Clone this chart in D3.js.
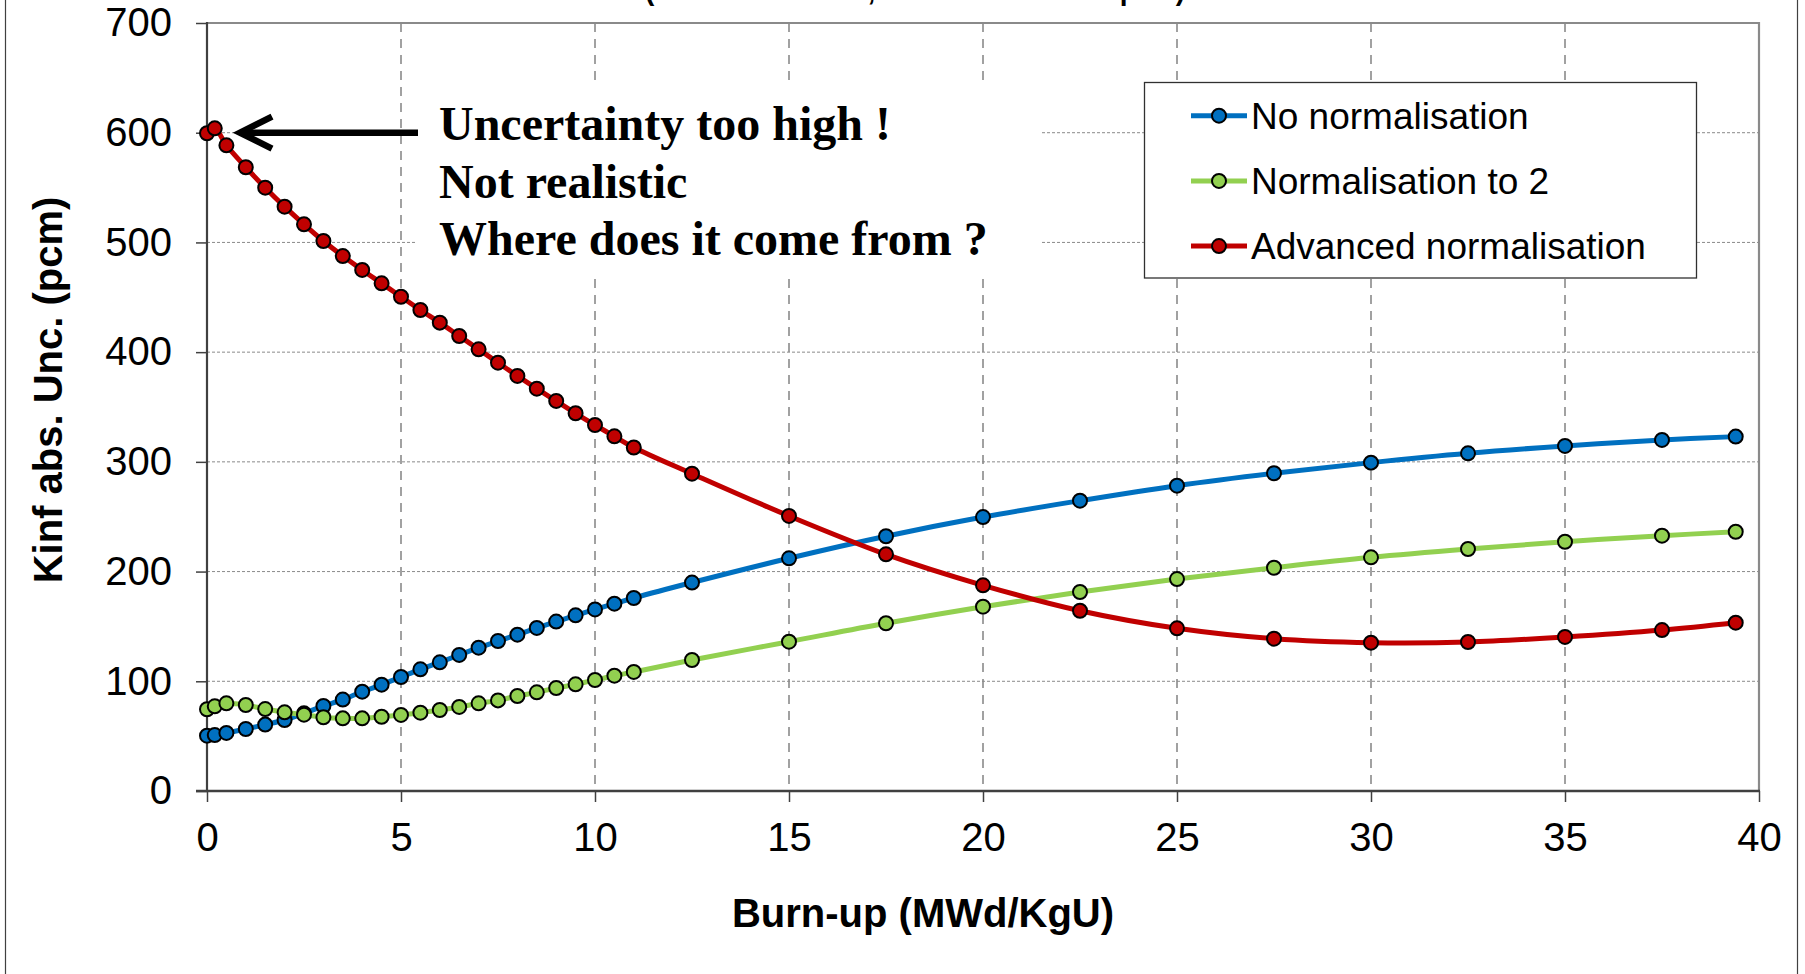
<!DOCTYPE html>
<html>
<head>
<meta charset="utf-8">
<script src="https://cdn.jsdelivr.net/npm/d3@7"></script>
<style>
  html, body { margin: 0; padding: 0; background: #fff; }
  svg { display: block; }
</style>
</head>
<body>
<svg id="chart" width="1805" height="974"></svg>
<script>
// ---- data ----
const burnup = [0, 0.2, 0.5, 1, 1.5, 2, 2.5, 3, 3.5, 4, 4.5, 5, 5.5, 6, 6.5, 7, 7.5, 8, 8.5, 9, 9.5, 10, 10.5, 11,
                12.5, 15, 17.5, 20, 22.5, 25, 27.5, 30, 32.5, 35, 37.5, 39.4];
const noNorm = [50.4, 51, 52.9, 56.5, 60.5, 64.7, 70.8, 77.5, 83.3, 90.5, 96.9, 103.9, 110.9, 117.3, 124, 130.6, 136.7, 142.5, 148.6, 154.4, 160.1, 165.5, 170.7, 175.9,
                190, 212.1, 232.2, 249.7, 264.6, 278.3, 289.6, 299.3, 307.8, 314.5, 320, 323];
const norm2 = [74.5, 77.2, 79.9, 78.4, 74.7, 71.7, 69.6, 67.2, 66.2, 66.2, 67.7, 69.3, 71.4, 73.8, 76.6, 79.9, 82.6, 86.6, 89.9, 93.9, 97.2, 101.2, 105.1, 108.5,
               119.4, 136.1, 152.9, 168, 181.4, 193.2, 203.5, 213, 220.6, 227.2, 232.7, 236.3];
const advNorm = [599.5, 604, 588.5, 568.5, 549.9, 532.6, 516.5, 501.3, 487.6, 474.9, 462.7, 450.5, 438.4, 426.9, 414.7, 402.6, 390.4, 378.3, 366.7, 355.5, 344.3, 333.6, 323.3, 313.1,
                 289.2, 250.7, 215.7, 187.5, 164.3, 148.3, 138.8, 135.2, 135.8, 140.4, 146.7, 153.4];
const seriesNames = ["No normalisation", "Normalisation to 2", "Advanced normalisation"];
const seriesColors = ["#0070C0", "#92D050", "#C00000"];
const xTicks = [0, 5, 10, 15, 20, 25, 30, 35, 40];
const yTicks = [0, 100, 200, 300, 400, 500, 600, 700];
const annotationLines = ["Uncertainty too high !", "Not realistic", "Where does it come from ?"];
const titleText = "(Nuclear data XS, 1000 random samples)";
const xTitle = "Burn-up (MWd/KgU)";
const yTitle = "Kinf abs. Unc. (pcm)";

// ---- layout ----
const svg = d3.select("#chart");
const L = 207, R = 1759, T = 23, B = 791;
const x = d3.scaleLinear().domain([0, 40]).range([L, R]);
const y = d3.scaleLinear().domain([0, 700]).range([B, T]);
const sans = "'Liberation Sans', Arial, sans-serif";
const serif = "'Liberation Serif', 'Times New Roman', serif";

// outer chart border
svg.append("rect").attr("x", 5.5).attr("y", -10).attr("width", 1792).attr("height", 1000)
  .attr("fill", "none").attr("stroke", "#404040").attr("stroke-width", 1.2);

// title (mostly cut off at top, as in the reference)
svg.append("text").attr("x", 645).attr("y", 0)
  .attr("textLength", 540).attr("lengthAdjust", "spacingAndGlyphs")
  .attr("font-family", sans).attr("font-weight", "bold").attr("font-size", 30)
  .text(titleText);

// gridlines
svg.append("g").selectAll("line").data(yTicks.filter(v => v > 0 && v < 700)).join("line")
  .attr("x1", L).attr("x2", R).attr("y1", d => y(d)).attr("y2", d => y(d))
  .attr("stroke", "#8a8a8a").attr("stroke-width", 1).attr("stroke-dasharray", "3,2");
svg.append("g").selectAll("line").data(xTicks.filter(v => v > 0 && v < 40)).join("line")
  .attr("x1", d => x(d)).attr("x2", d => x(d)).attr("y1", T).attr("y2", B)
  .attr("stroke", "#8a8a8a").attr("stroke-width", 1.6).attr("stroke-dasharray", "9,7");

// plot border top/right
svg.append("path").attr("d", `M${L},${T}H${R}V${B}`).attr("fill", "none")
  .attr("stroke", "#8a8a8a").attr("stroke-width", 2.2);

// annotation white box
svg.append("rect").attr("x", 417).attr("y", 84).attr("width", 623).attr("height", 193).attr("fill", "#fff");

// axes
const yAxis = d3.axisLeft(y).tickValues(yTicks).tickSize(11).tickPadding(24);
const gy = svg.append("g").attr("transform", `translate(${L},0)`).call(yAxis);
gy.select(".domain").remove();
gy.selectAll(".tick line").attr("stroke", "#404040").attr("stroke-width", 1.5);
gy.selectAll(".tick text").attr("font-family", sans).attr("font-size", 40).attr("fill", "#000");

const xAxis = d3.axisBottom(x).tickValues(xTicks).tickSize(11).tickPadding(21);
const gx = svg.append("g").attr("transform", `translate(0,${B})`).call(xAxis);
gx.select(".domain").remove();
gx.selectAll(".tick line").attr("stroke", "#404040").attr("stroke-width", 1.5);
gx.selectAll(".tick text").attr("font-family", sans).attr("font-size", 40).attr("fill", "#000");

svg.append("line").attr("x1", L).attr("x2", L).attr("y1", T - 1).attr("y2", B + 1)
  .attr("stroke", "#404040").attr("stroke-width", 2.2);
svg.append("line").attr("x1", L - 11).attr("x2", R + 1).attr("y1", B).attr("y2", B)
  .attr("stroke", "#404040").attr("stroke-width", 2.4);

// axis titles
svg.append("text").attr("x", 923).attr("y", 927).attr("text-anchor", "middle")
  .attr("font-family", sans).attr("font-weight", "bold").attr("font-size", 40).text(xTitle);
svg.append("text").attr("transform", "translate(62,390) rotate(-90)").attr("text-anchor", "middle")
  .attr("font-family", sans).attr("font-weight", "bold").attr("font-size", 40).text(yTitle);

// annotation text + arrow
svg.append("g").selectAll("text").data(annotationLines).join("text")
  .attr("x", 439).attr("y", (d, i) => 140 + i * 57.5)
  .attr("font-family", serif).attr("font-weight", "bold").attr("font-size", 48).text(d => d);
svg.append("line").attr("x1", 418).attr("x2", 243).attr("y1", y(600)).attr("y2", y(600))
  .attr("stroke", "#000").attr("stroke-width", 6.5);
svg.append("path").attr("d", `M272,${y(600) - 16}L240,${y(600)}L272,${y(600) + 16}`)
  .attr("fill", "none").attr("stroke", "#000").attr("stroke-width", 6.5).attr("stroke-linejoin", "miter");

// legend box
svg.append("rect").attr("x", 1144.5).attr("y", 82.5).attr("width", 552).attr("height", 195.5)
  .attr("fill", "#fff").attr("stroke", "#303030").attr("stroke-width", 1.3);

// series
const allSeries = [noNorm, norm2, advNorm];
const line = d3.line().x(d => x(d[0])).y(d => y(d[1])).curve(d3.curveCatmullRom.alpha(0.5));
allSeries.forEach((vals, i) => {
  const pts = burnup.map((b, j) => [b, vals[j]]);
  const g = svg.append("g");
  g.append("path").attr("d", line(pts)).attr("fill", "none")
    .attr("stroke", seriesColors[i]).attr("stroke-width", 5);
  g.selectAll("circle").data(pts).join("circle")
    .attr("cx", d => x(d[0])).attr("cy", d => y(d[1])).attr("r", 7)
    .attr("fill", seriesColors[i]).attr("stroke", "#000").attr("stroke-width", 2);
});

// legend entries
const lg = svg.append("g").selectAll("g").data(seriesNames).join("g")
  .attr("transform", (d, i) => `translate(0,${115.7 + i * 65.2})`);
lg.append("line").attr("x1", 1191).attr("x2", 1247).attr("y1", 0).attr("y2", 0)
  .attr("stroke", (d, i) => seriesColors[i]).attr("stroke-width", 5);
lg.append("circle").attr("cx", 1219).attr("cy", 0).attr("r", 7)
  .attr("fill", (d, i) => seriesColors[i]).attr("stroke", "#000").attr("stroke-width", 2);
lg.append("text").attr("x", 1251).attr("y", 0).attr("dy", "0.35em")
  .attr("font-family", sans).attr("font-size", 37).text(d => d);
</script>
</body>
</html>
